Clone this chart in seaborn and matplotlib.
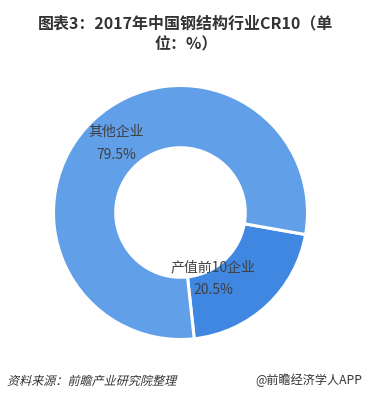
import matplotlib
matplotlib.use("Agg")
import matplotlib.pyplot as plt
import seaborn as sns
import numpy as np
from matplotlib.textpath import TextPath
from matplotlib.patches import PathPatch
from matplotlib.font_manager import FontProperties
from matplotlib.transforms import Affine2D

# data
categories = ["产值前10企业", "其他企业"]
shares = [20.5, 79.5]
colors = ["#3f87e0", "#619fe9"]

sns.set_theme(style="white")
plt.rcParams['font.family'] = ['Noto Sans CJK SC', 'DejaVu Sans']

fig = plt.figure(figsize=(3.71, 3.99), dpi=100)
W, H = 371, 399
cx, cy, R = 180.5, 212.5, 127
ax = fig.add_axes([(cx - R) / W, (H - cy - R) / H, 2 * R / W, 2 * R / H])

wedges, _ = ax.pie(shares, colors=colors, startangle=-10, counterclock=False,
                   wedgeprops=dict(width=0.49, edgecolor="white", linewidth=2.2))
ax.set_xlim(-1, 1)
ax.set_ylim(-1, 1)
ax.set_aspect("equal")
ax.axis("off")

# label positions (angle in degrees, radius) for each slice
label_pos = [(-63.5, 0.58), (133, 0.74)]
for cat, val, (ang, r) in zip(categories, shares, label_pos):
    x = r * np.cos(np.radians(ang))
    y = r * np.sin(np.radians(ang))
    ax.text(x, y + 0.09, cat, ha="center", va="center", fontsize=10, color="#404040")
    ax.text(x, y - 0.09, f"{val}%", ha="center", va="center", fontsize=10, color="#404040")

fig.text(186 / W, 1 - 23 / H, "图表3：2017年中国钢结构行业CR10（单", ha="center", va="center",
         fontsize=11.5, fontweight="bold", color="#333333")
fig.text(186 / W, 1 - 44 / H, "位：%）", ha="center", va="center",
         fontsize=11.5, fontweight="bold", color="#333333")

# italic source note (CJK font has no italic, so slant the glyph outlines)
src = "资料来源：前瞻产业研究院整理"
tp = TextPath((0, 0), src, size=8.7 * 100 / 72, prop=FontProperties(family="Noto Sans CJK SC"))
patch = PathPatch(tp, facecolor="#333333", edgecolor="none",
                  transform=Affine2D().skew_deg(14, 0).translate(7, H - 385))
fig.add_artist(patch)

fig.text(362 / W, 1 - 380 / H, "@前瞻经济学人APP", ha="right", va="center",
         fontsize=8.7, color="#333333")

fig.savefig("out.png", dpi=100)
